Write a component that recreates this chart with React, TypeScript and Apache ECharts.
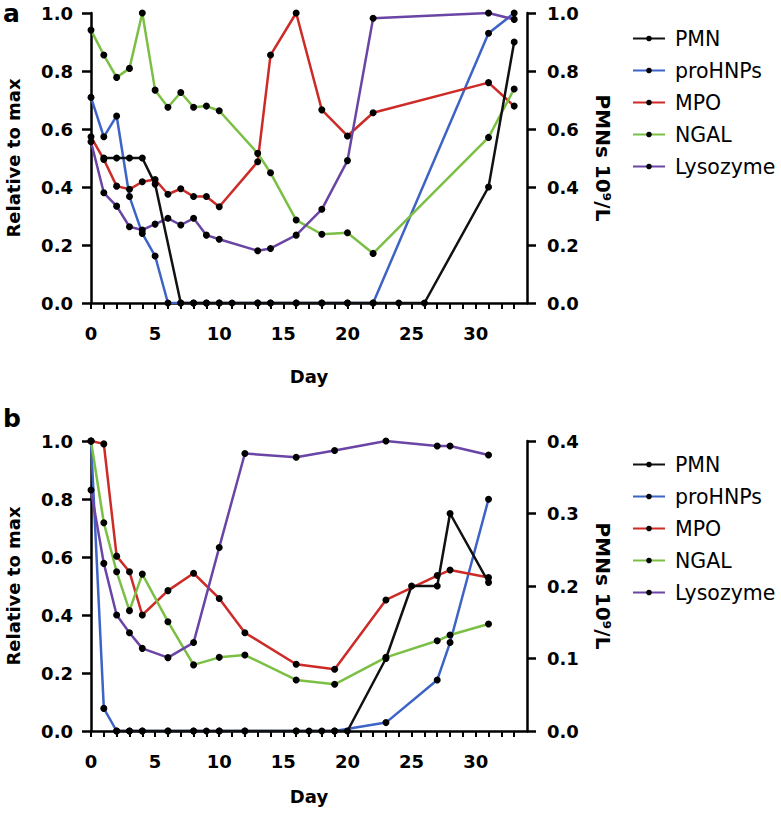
import React, { useEffect, useRef } from "react";
import * as echarts from "echarts";

// ---------- Panel a data ----------
const daysA = [0, 1, 2, 3, 4, 5, 6, 7, 8, 9, 10, 13, 14, 16, 18, 20, 22, 31, 33];
const proHNPsA = [0.709, 0.573, 0.645, 0.367, 0.24, 0.162, 0.0, 0, 0, 0, 0, 0, 0, 0, 0, 0, 0, 0.93, 1.0];
const mpoA = [0.573, 0.495, 0.403, 0.392, 0.418, 0.426, 0.375, 0.394, 0.367, 0.367, 0.332, 0.487, 0.855, 1.0, 0.666, 0.576, 0.656, 0.76, 0.679];
const ngalA = [0.941, 0.855, 0.778, 0.809, 1.0, 0.734, 0.675, 0.726, 0.675, 0.679, 0.663, 0.516, 0.449, 0.286, 0.237, 0.242, 0.171, 0.571, 0.738];
const lysoA = [0.556, 0.38, 0.334, 0.263, 0.252, 0.272, 0.292, 0.269, 0.292, 0.234, 0.22, 0.18, 0.188, 0.234, 0.323, 0.491, 0.982, 1.0, 0.978];
const pmnDaysA = [1, 2, 3, 4, 5, 7, 8, 9, 10, 11, 13, 14, 16, 18, 20, 22, 24, 26, 31, 33];
const pmnA = [0.5, 0.5, 0.5, 0.5, 0.41, 0, 0, 0, 0, 0, 0, 0, 0, 0, 0, 0, 0, 0, 0.4, 0.9];

// ---------- Panel b data ----------
const daysB = [0, 1, 2, 3, 4, 6, 8, 10, 12, 16, 19, 23, 27, 28, 31];
const proHNPsB = [1.0, 0.078, 0, 0, 0, 0, 0, 0, 0, 0, 0, 0.029, 0.176, 0.305, 0.799];
const mpoB = [1.0, 0.99, 0.603, 0.549, 0.4, 0.484, 0.544, 0.457, 0.339, 0.23, 0.213, 0.452, 0.536, 0.555, 0.529];
const ngalB = [1.0, 0.718, 0.549, 0.415, 0.541, 0.377, 0.228, 0.254, 0.262, 0.176, 0.161, 0.254, 0.311, 0.331, 0.369];
const lysoB = [0.831, 0.578, 0.4, 0.339, 0.285, 0.253, 0.305, 0.633, 0.957, 0.944, 0.967, 1.0, 0.983, 0.983, 0.952];
const pmnDaysB = [2, 3, 4, 6, 8, 9, 10, 12, 16, 17, 18, 19, 20, 23, 25, 27, 28, 31];
const pmnB = [0, 0, 0, 0, 0, 0, 0, 0, 0, 0, 0, 0, 0, 0.1, 0.2, 0.2, 0.3, 0.205];

const seriesNames = ["PMN", "proHNPs", "MPO", "NGAL", "Lysozyme"];
const colors: Record<string, string> = {
  PMN: "#111111",
  proHNPs: "#3d63c7",
  MPO: "#cc2b27",
  NGAL: "#7bbf44",
  Lysozyme: "#6a45a5",
};

const FONT = "DejaVu Sans";

const zip = (xs: number[], ys: number[]) => xs.map((x, i) => [x, ys[i]]);

function lineSeries(name: string, data: number[][], xAxisIndex: number, yAxisIndex: number) {
  return {
    name,
    type: "line",
    xAxisIndex,
    yAxisIndex,
    data,
    symbol: "circle",
    symbolSize: 7,
    showSymbol: true,
    lineStyle: { color: colors[name], width: 2.5 },
    itemStyle: { color: "#000" },
    z: 3,
  };
}

function xAxis(gridIndex: number, nameGap: number) {
  return {
    type: "value",
    gridIndex,
    min: 0,
    max: 34,
    interval: 1,
    name: "Day",
    nameLocation: "middle",
    nameGap,
    nameTextStyle: { fontFamily: FONT, fontWeight: "bold", fontSize: 18, color: "#000" },
    axisLine: { show: true, onZero: false, lineStyle: { color: "#000", width: 2.5 } },
    axisTick: { show: true, length: 6, lineStyle: { color: "#000", width: 2 } },
    splitLine: { show: false },
    axisLabel: {
      fontFamily: FONT,
      fontWeight: "bold",
      fontSize: 18,
      color: "#000",
      margin: 21,
      showMaxLabel: false,
      formatter: (v: number) => (v % 5 === 0 && v <= 30 ? String(v) : ""),
    },
  };
}

function yAxis(gridIndex: number, position: "left" | "right", max: number, interval: number, name: string, nameGap: number, nameRotate: number, nameSize: number) {
  return {
    type: "value",
    gridIndex,
    position,
    min: 0,
    max,
    interval,
    name,
    nameLocation: "middle",
    nameGap,
    nameRotate,
    nameTextStyle: { fontFamily: FONT, fontWeight: "bold", fontSize: nameSize, color: "#000" },
    axisLine: { show: true, onZero: false, lineStyle: { color: "#000", width: 2.5 } },
    axisTick: { show: true, length: 9, lineStyle: { color: "#000", width: 2.5 } },
    splitLine: { show: false },
    axisLabel: {
      fontFamily: FONT,
      fontWeight: "bold",
      fontSize: 18,
      color: "#000",
      margin: position === "left" ? 18 : 20,
      formatter: (v: number) => v.toFixed(1),
    },
  };
}

function legend(top: number) {
  return {
    orient: "vertical",
    left: 627,
    top,
    itemWidth: 32,
    itemHeight: 7,
    itemGap: 11,
    data: seriesNames,
    selectedMode: false,
    textStyle: { fontFamily: FONT, fontSize: 20.5, color: "#000", padding: [0, 0, 0, 5] },
  };
}

export default function App() {
  const ref = useRef<HTMLDivElement>(null);

  useEffect(() => {
    if (!ref.current) return;
    const chart = echarts.init(ref.current, null, { renderer: "svg" });
    const option = {
      animation: false,
      backgroundColor: "#fff",
      grid: [
        { left: 91, top: 13, width: 436, height: 290, outerBoundsMode: "none", containLabel: false },
        { left: 91, top: 441, width: 436, height: 290, outerBoundsMode: "none", containLabel: false },
      ],
      xAxis: [xAxis(0, 64), xAxis(1, 56)],
      yAxis: [
        yAxis(0, "left", 1, 0.2, "Relative to max", 69, 90, 18),
        yAxis(0, "right", 1, 0.2, "PMNs 10⁹/L", 66, -90, 20),
        yAxis(1, "left", 1, 0.2, "Relative to max", 69, 90, 18),
        yAxis(1, "right", 0.4, 0.1, "PMNs 10⁹/L", 66, -90, 20),
      ],
      legend: [legend(23), legend(449)],
      series: [
        lineSeries("proHNPs", zip(daysA, proHNPsA), 0, 0),
        lineSeries("MPO", zip(daysA, mpoA), 0, 0),
        lineSeries("NGAL", zip(daysA, ngalA), 0, 0),
        lineSeries("Lysozyme", zip(daysA, lysoA), 0, 0),
        lineSeries("PMN", zip(pmnDaysA, pmnA), 0, 1),
        lineSeries("proHNPs", zip(daysB, proHNPsB), 1, 2),
        lineSeries("MPO", zip(daysB, mpoB), 1, 2),
        lineSeries("NGAL", zip(daysB, ngalB), 1, 2),
        lineSeries("Lysozyme", zip(daysB, lysoB), 1, 2),
        lineSeries("PMN", zip(pmnDaysB, pmnB), 1, 3),
      ],
      graphic: [
        { type: "text", left: 3, top: 1, style: { text: "a", fontFamily: FONT, fontWeight: "bold", fontSize: 25, fill: "#000" } },
        { type: "text", left: 3, top: 406, style: { text: "b", fontFamily: FONT, fontWeight: "bold", fontSize: 25, fill: "#000" } },
      ],
    };
    chart.setOption(option as any);
    return () => chart.dispose();
  }, []);

  return (
    <div
      ref={ref}
      style={{ position: "fixed", left: 0, top: 0, width: 781, height: 817 }}
    />
  );
}
